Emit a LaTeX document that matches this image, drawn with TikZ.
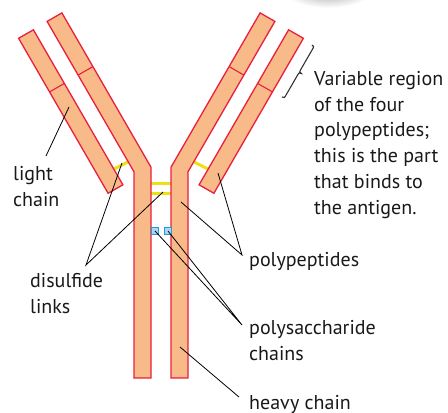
\documentclass[tikz,border=0pt]{standalone}
\usepackage{fontspec}
\setmainfont{PT Sans}
\definecolor{chainfill}{RGB}{247,186,136}
\definecolor{chainedge}{RGB}{232,32,62}
\definecolor{sslink}{RGB}{238,224,24}
\definecolor{sugarfill}{RGB}{172,214,242}
\definecolor{sugaredge}{RGB}{28,156,222}
\tikzset{
  chain/.style={fill=chainfill, draw=chainedge, line width=1.3pt, line join=miter},
  divider/.style={draw=chainedge, line width=1.1pt},
  bridge/.style={draw=sslink, line width=3pt},
  sugar/.style={draw=sugaredge, fill=sugarfill, line width=1pt, minimum size=7.5pt, inner sep=0pt, rectangle},
  lbl/.style={font=\fontsize{20}{25.7}\selectfont, align=left, inner sep=0pt, anchor=base west, text=black!90},
  leader/.style={draw=black, line width=0.8pt},
  bracket/.style={draw=black!80, line width=1.1pt},
}
\begin{document}
\begin{tikzpicture}[x=1pt,y=-1pt]
\useasboundingbox (0,0) rectangle (448,413);
% soft grey shadow cut by the top edge
\begin{scope}
  \clip (0,0) rectangle (448,413);
  \shade[inner color=black!40, outer color=white] (328,-12) ellipse [x radius=46, y radius=20];
\end{scope}

% disulfide bridges (behind the chains)
\draw[bridge] (114,169) -- (128,162);
\draw[bridge] (208,169) -- (194,162);
\draw[bridge] (151,183) -- (171,183);
\draw[bridge] (151,193) -- (171,193);

% heavy chains
\draw[chain] (134,378) -- (134,171.8) -- (47.1,21.4) -- (61.9,12.9) -- (151,167.2) -- (151,378) -- cycle;
\draw[chain] (188,378) -- (188,171.8) -- (274.9,21.4) -- (260.1,12.9) -- (171,167.2) -- (171,378) -- cycle;
\draw[divider] (78.1,75.1) -- (92.9,66.6);
\draw[divider] (243.9,75.1) -- (229.1,66.6);

% light chains
\draw[chain] (108.1,193.3) -- (122.9,184.8) -- (33.4,29.8) -- (18.6,38.3) -- cycle;
\draw[chain] (213.9,193.3) -- (199.1,184.8) -- (288.6,29.8) -- (303.4,38.3) -- cycle;
\draw[divider] (49.6,91.9) -- (64.4,83.4);
\draw[divider] (272.4,91.9) -- (257.6,83.4);

% carbohydrate attachments
\node[sugar] (g1) at (155,231) {};
\node[sugar] (g2) at (168,231) {};

% labels (anchored at the baseline of their last line)
\node[lbl] (lightlbl) at (13,206) {light\\chain};
\node[lbl] (sslbl) at (30,313) {disulfide\\links};
\node[lbl] (pplbl) at (249,266) {polypeptides};
\node[lbl] (pslbl) at (249,360) {polysaccharide\\chains};
\node[lbl] (hvlbl) at (249,409) {heavy chain};
\node[lbl] (varlbl) at (314,214) {Variable region\\of the four\\polypeptides;\\this is the part\\that binds to\\the antigen.};

% leader end points
\coordinate (lightpt) at (69,107);
\coordinate (lightsrc) at (46,156);
\coordinate (sshub) at (86,265);
\coordinate (ssleft) at (122,163);
\coordinate (sscentre) at (163,192);
\coordinate (pphub) at (242,255);
\coordinate (pplight) at (218,173);
\coordinate (ppheavy) at (181,202);
\coordinate (pshub) at (242,325);
\coordinate (hvhub) at (239,397);
\coordinate (hvpt) at (180,347);
\coordinate (vartop) at (312,45);
\coordinate (varbot) at (282,97);
\coordinate (vartip) at (301.3,73.5);

% leaders
\draw[leader] (lightsrc) -- (lightpt);
\draw[leader] (ssleft) -- (sshub) -- (sscentre);
\draw[leader] (pplight) -- (pphub) -- (ppheavy);
\draw[leader] (g1.center) -- (pshub) -- (g2.center);
\draw[leader] (hvhub) -- (hvpt);

% curly bracket along the variable ends, tip facing the text
\draw[bracket] (vartop) .. controls (314.2,46.25) .. (311.7,50.6)
  -- (301.7,67.9) .. controls (299.2,72.25) .. (vartip)
  .. controls (299.2,72.25) .. (296.7,76.6)
  -- (286.7,93.9) .. controls (284.2,98.25) .. (varbot);
\end{tikzpicture}
\end{document}
